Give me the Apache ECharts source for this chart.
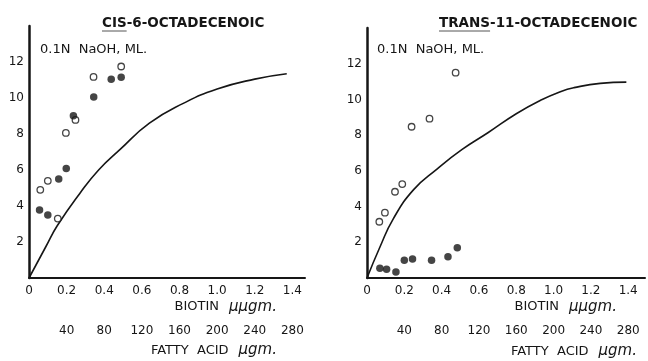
<!DOCTYPE html>
<html>
<head>
<meta charset="utf-8">
<script src="https://cdn.jsdelivr.net/npm/echarts@6/dist/echarts.min.js"></script>
<style>
  html, body { margin: 0; padding: 0; background: #fff; }
  #main { width: 648px; height: 361px; }
</style>
</head>
<body>
<div id="main"></div>
<script>
// tick labels
var biotinTicks = [0, 0.2, 0.4, 0.6, 0.8, 1.0, 1.2, 1.4];
var fattyTicks = [40, 80, 120, 160, 200, 240, 280];
var naohTicks = [2, 4, 6, 8, 10, 12];

// cis-6-octadecenoic panel: [biotin, ml NaOH]
var cisCurve = [[0, 0], [0.09, 1.75], [0.15, 2.9], [0.27, 4.7], [0.37, 6.0], [0.48, 7.1],
  [0.64, 8.6], [0.82, 9.7], [1.0, 10.5], [1.2, 11.05], [1.37, 11.35]];
var cisOpen = [[0.06, 4.9], [0.1, 5.4], [0.153, 3.3], [0.196, 8.06], [0.247, 8.78],
  [0.343, 11.17], [0.49, 11.75]];
var cisFilled = [[0.056, 3.78], [0.1, 3.5], [0.158, 5.5], [0.198, 6.09], [0.236, 9.02],
  [0.344, 10.06], [0.437, 11.04], [0.49, 11.15]];

// trans-11-octadecenoic panel
var transCurve = [[0, 0], [0.07, 1.75], [0.14, 3.3], [0.25, 4.95], [0.375, 6.1], [0.51, 7.2],
  [0.65, 8.15], [0.8, 9.2], [0.93, 9.95], [1.04, 10.45], [1.11, 10.66], [1.25, 10.9], [1.39, 10.97]];
var transOpen = [[0.066, 3.15], [0.096, 3.66], [0.15, 4.83], [0.189, 5.26], [0.239, 8.47],
  [0.335, 8.92], [0.475, 11.5]];
var transFilled = [[0.069, 0.54], [0.105, 0.49], [0.155, 0.34], [0.2, 1.0], [0.244, 1.06],
  [0.346, 1.0], [0.434, 1.19], [0.484, 1.7]];

var ink = '#161616';
var font = 'DejaVu Sans';

function pick(list, v, fmt) {
  for (var i = 0; i < list.length; i++) {
    if (Math.abs(list[i] - v) < 1e-6) return fmt(list[i]);
  }
  return '';
}
function biotinFmt(v) { return pick(biotinTicks, v, function (t) { return t === 0 ? '0' : t.toFixed(1); }); }
function fattyFmt(v) { return pick(fattyTicks, v, function (t) { return String(t); }); }
function naohFmt(v) { return pick(naohTicks, v, function (t) { return String(t); }); }

function biotinAxis(grid, max) {
  return {
    type: 'value', gridIndex: grid, min: 0, max: max, interval: 0.2,
    axisLine: { lineStyle: { color: ink, width: 2 } },
    axisTick: { show: false }, splitLine: { show: false },
    axisLabel: { formatter: biotinFmt, color: ink, fontFamily: font, fontSize: 12, margin: 7 }
  };
}
function fattyAxis(grid, max) {
  return {
    type: 'value', gridIndex: grid, position: 'bottom', offset: 40,
    min: 0, max: max * 200, interval: 40,
    axisLine: { show: false }, axisTick: { show: false }, splitLine: { show: false },
    axisLabel: { formatter: fattyFmt, color: ink, fontFamily: font, fontSize: 12, margin: 7 }
  };
}
function naohAxis(grid) {
  return {
    type: 'value', gridIndex: grid, min: 0, max: 14, interval: 2,
    axisLine: { show: true, lineStyle: { color: ink, width: 2.5 } },
    axisTick: { show: false }, splitLine: { show: false },
    axisLabel: { formatter: naohFmt, color: ink, fontFamily: font, fontSize: 12, margin: 5 }
  };
}
function curve(data, xi, yi) {
  return { type: 'line', data: data, xAxisIndex: xi, yAxisIndex: yi, smooth: 0.5,
    showSymbol: false, lineStyle: { color: ink, width: 1.6 }, z: 2 };
}
function openPts(data, xi, yi) {
  return { type: 'scatter', data: data, xAxisIndex: xi, yAxisIndex: yi, symbolSize: 6.5,
    itemStyle: { color: '#fff', borderColor: ink, borderWidth: 1.3 }, z: 3 };
}
function filledPts(data, xi, yi) {
  return { type: 'scatter', data: data, xAxisIndex: xi, yAxisIndex: yi, symbolSize: 7.5,
    itemStyle: { color: ink }, z: 3 };
}
function label(text, x, y, align, size, weight) {
  return { type: 'text', x: x, y: y,
    style: { text: text, fill: ink, font: (weight || 'normal') + ' ' + size + 'px "' + font + '"',
      textAlign: align, textVerticalAlign: 'middle' } };
}
// caption with a script-like unit after the capitals
function caption(caps, unit, x, y) {
  return { type: 'text', x: x, y: y,
    style: { text: '{a|' + caps + '}   {b|' + unit + '}', textAlign: 'right', textVerticalAlign: 'middle',
      rich: {
        a: { fontFamily: font, fontSize: 13, fill: ink },
        b: { fontFamily: font, fontStyle: 'italic', fontSize: 15, fill: ink }
      } } };
}
// underline the first word of a title
var measure = document.createElement('canvas').getContext('2d');
function underline(word, x, y, size) {
  measure.font = 'bold ' + size + 'px "' + font + '"';
  var w = measure.measureText(word).width;
  return { type: 'line', shape: { x1: x, y1: y, x2: x + w, y2: y }, style: { stroke: '#555', lineWidth: 1 } };
}

var chart = echarts.init(document.getElementById('main'));
chart.setOption({
  animation: false,
  backgroundColor: '#fff',
  grid: [
    { left: 29, top: 26, width: 276, height: 252 },
    { left: 367, top: 28, width: 279, height: 250 }
  ],
  xAxis: [biotinAxis(0, 1.467), fattyAxis(0, 1.467), biotinAxis(1, 1.49), fattyAxis(1, 1.49)],
  yAxis: [naohAxis(0), naohAxis(1)],
  series: [
    curve(cisCurve, 0, 0), openPts(cisOpen, 0, 0), filledPts(cisFilled, 0, 0),
    curve(transCurve, 2, 1), openPts(transOpen, 2, 1), filledPts(transFilled, 2, 1)
  ],
  graphic: [
    label('CIS-6-OCTADECENOIC', 102, 23, 'left', 13.5, 'bold'),
    label('TRANS-11-OCTADECENOIC', 439, 23, 'left', 13.5, 'bold'),
    underline('CIS', 102, 31, 13.5),
    underline('TRANS', 439, 31, 13.5),
    label('0.1N  NaOH, ML.', 40, 50, 'left', 13),
    label('0.1N  NaOH, ML.', 377, 50, 'left', 13),
    caption('BIOTIN', 'μμgm.', 277, 307),
    caption('BIOTIN', 'μμgm.', 617, 307),
    caption('FATTY  ACID', 'μgm.', 277, 350.5),
    caption('FATTY  ACID', 'μgm.', 637, 351.5)
  ]
});
</script>
</body>
</html>
